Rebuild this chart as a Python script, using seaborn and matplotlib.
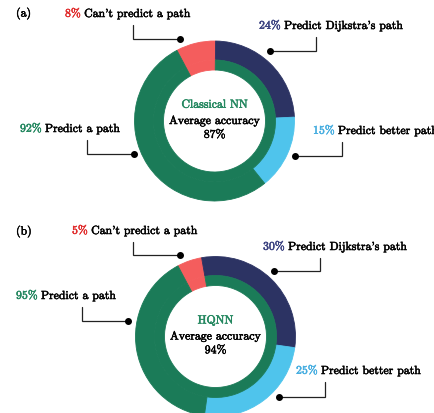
import matplotlib
matplotlib.use("Agg")
import matplotlib.pyplot as plt
import matplotlib.patheffects as pe
import seaborn as sns

# values (%)
models = ["Classical NN", "HQNN"]
panel_tags = ["(a)", "(b)"]
cant_predict = [8, 5]
predict_path = [92, 95]
dijkstra_path = [24, 30]
better_path = [15, 25]
avg_accuracy = [87, 94]

seg_labels = ["Can't predict a path", "Predict Dijkstra's path",
              "Predict better path", "Predict a path"]

# ring colours and the (slightly different) colours of the % numbers
c_red, c_navy, c_blue, c_green = "#f45d5d", "#2c3363", "#4fc4ec", "#1b7b58"
t_red, t_navy, t_blue, t_green = "#e02a2a", "#3a4180", "#45ade0", "#23875f"

sns.set_theme(style="white")
plt.rcParams["font.family"] = ["cmr10", "DejaVu Serif"]
plt.rcParams["axes.unicode_minus"] = False
plt.rcParams["axes.formatter.use_mathtext"] = True

W, H = 434, 414
FS = 8.5
fig = plt.figure(figsize=(W / 100, H / 100), dpi=100)
ax = fig.add_axes([0, 0, 1, 1])
renderer = fig.canvas.get_renderer()

# layout in pixels (y measured from the top)
centers = [(214.5, 122), (215.5, 337.5)]
R = 80
tag_pos = [(16, 15), (16, 233)]
# per label: text x, text y, leader x, dot x, dot y  (order: red, navy, blue, green)
leaders = [
    [(65, 15, 133, 180, 40), (259, 27, 316, 270, 52),
     (313, 132, 342, 295, 157), (20, 130, 87, 134, 155)],
    [(72, 232, 133, 180, 256), (263, 248, 320, 274, 272),
     (296, 372, 325, 279, 398), (16, 297, 82, 128, 322)],
]


def txt(x, y, s, col="black", **kw):
    return ax.text(x, y, s, color=col, fontsize=FS, va="center",
                   path_effects=[pe.withStroke(linewidth=0.35, foreground=col)],
                   **kw)


def two_tone(x, y, pct, col, label):
    t = txt(x, H - y, pct, col, ha="left")
    w = t.get_window_extent(renderer).width
    txt(x + w + 3.5, H - y, label, ha="left")


for i in range(2):
    cx, cy = centers[i]
    rest = predict_path[i] - dijkstra_path[i] - better_path[i]
    outer = [cant_predict[i], dijkstra_path[i], better_path[i], rest]
    inner = [cant_predict[i], predict_path[i]]
    w1, _ = ax.pie(outer, colors=[c_red, c_navy, c_blue, c_green], radius=R,
                   center=(cx, H - cy), startangle=118, counterclock=False,
                   wedgeprops=dict(width=19, linewidth=0.6))
    w2, _ = ax.pie(inner, colors=[c_red, c_green], radius=61,
                   center=(cx, H - cy), startangle=118, counterclock=False,
                   wedgeprops=dict(width=10, linewidth=0.6))
    for w in list(w1) + list(w2):
        w.set_edgecolor(w.get_facecolor())

    # centre text
    txt(cx, H - cy + 16, models[i], t_green, ha="center")
    txt(cx, H - cy, "Average accuracy", ha="center")
    txt(cx, H - cy - 14, f"{avg_accuracy[i]}%", ha="center")

    txt(tag_pos[i][0], H - tag_pos[i][1], panel_tags[i], ha="left")

    vals = [cant_predict[i], dijkstra_path[i], better_path[i], predict_path[i]]
    cols = [t_red, t_navy, t_blue, t_green]
    for (tx, ty, lx, dx, dy), v, c, lab in zip(leaders[i], vals, cols, seg_labels):
        two_tone(tx, ty, f"{v}%", c, lab)
        ax.plot([lx, lx, dx], [H - ty - 11, H - dy, H - dy], color="#222222",
                lw=0.9, solid_joinstyle="miter")
        ax.plot(dx, H - dy, "o", color="black", ms=4)

ax.set_xlim(0, W)
ax.set_ylim(0, H)
ax.set_aspect("equal")
ax.axis("off")

fig.savefig("out.png", dpi=100, facecolor="white")
